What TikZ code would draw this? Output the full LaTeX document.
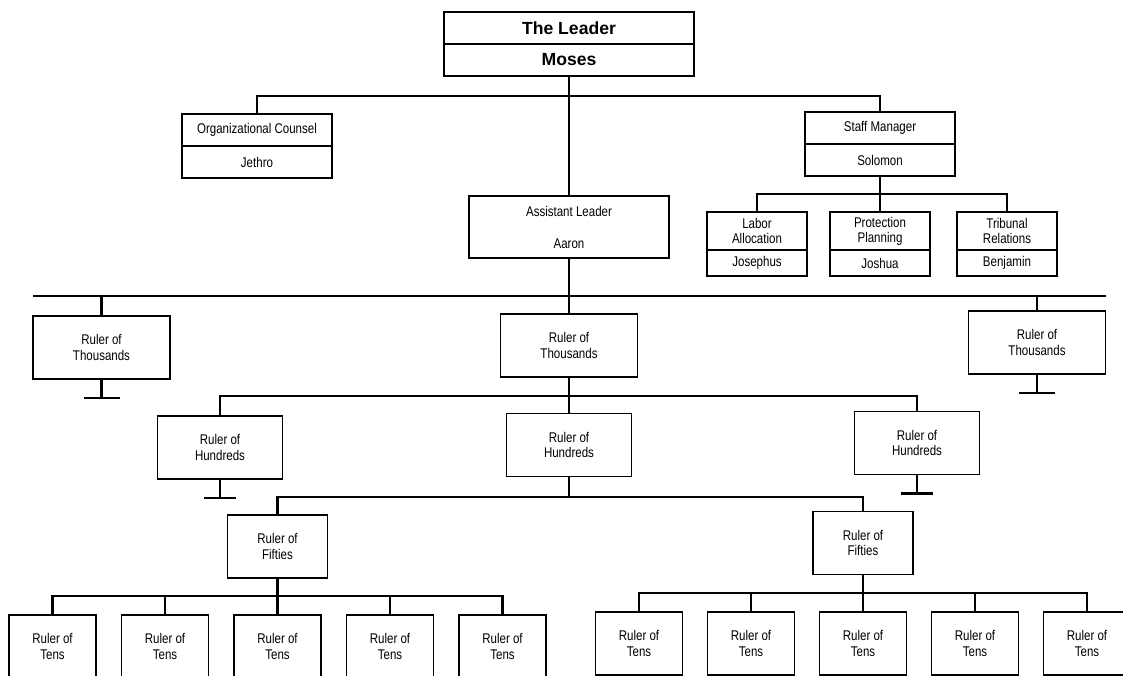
\documentclass[tikz,border=0pt]{standalone}
\usepackage{fontspec}
\setmainfont{Liberation Sans}[FakeStretch=0.82]
\newfontfamily\leadfont{Liberation Sans}
\usetikzlibrary{positioning}

\begin{document}
\begin{tikzpicture}[
  x=0.25mm, y=-0.25mm,
  font=\fontsize{10}{10.8}\selectfont,
  link/.style={line width=0.6mm},
  box/.style={
    draw,
    line width=0.4mm,
    outer sep=0pt,
    inner sep=1pt,
    align=center,
    minimum height=15.75mm
  },
  headrow/.style={
    box,
    minimum width=62.5mm,
    minimum height=8mm,
    font=\leadfont\bfseries\fontsize{12.5}{14}\selectfont
  },
  staffrow/.style={box, minimum width=37.5mm, minimum height=8mm},
  deptrow/.style={box, minimum width=25mm, minimum height=9.5mm},
  deptname/.style={box, minimum width=25mm, minimum height=6.5mm},
  thousands/.style={box, minimum width=34.25mm},
  hundreds/.style={box, minimum width=31.25mm},
  fifties/.style={box, minimum width=25mm},
  tens/.style={box, minimum width=21.75mm}
]
\useasboundingbox (0,0) rectangle (1123,675);
\clip (0,0) rectangle (1123,675);

% The leader and his two advisers.
\node[headrow] (leader) at (569,28) {The Leader};
\node[headrow, below=0pt of leader] (moses) {Moses};

\node[staffrow] (counsel) at (257,130) {Organizational Counsel};
\node[staffrow, below=0pt of counsel] (jethro) {Jethro};
\node[staffrow] (staff) at (880,128) {Staff Manager};
\node[staffrow, below=0pt of staff] (solomon) {Solomon};

\node[box, minimum width=50mm, minimum height=15.5mm] (assistant) at (569,227)
  {Assistant Leader\\[12pt]Aaron};

\coordinate (topbus) at (569,96);
\draw[link] (counsel.north) |- (topbus) -| (staff.north);
\draw[link] (moses.south) -- (assistant.north);

% Staff departments.
\node[deptrow] (labor) at (757,231) {Labor\\Allocation};
\node[deptname, below=0pt of labor] (josephus) {Josephus};
\node[deptrow] (protection) at (880,231) {Protection\\Planning};
\node[deptname, below=0pt of protection] (joshua) {Joshua};
\node[deptrow] (tribunal) at (1007,231) {Tribunal\\Relations};
\node[deptname, below=0pt of tribunal] (benjamin) {Benjamin};

\coordinate (staffbus) at (880,194);
\draw[link] (labor.north) |- (staffbus) -| (tribunal.north);
\draw[link] (solomon.south) -- (protection.north);

% Rulers of thousands.
\node[thousands] (th1) at (101.5,347.5) {Ruler of\\Thousands};
\node[thousands] (th2) at (569,345.5) {Ruler of\\Thousands};
\node[thousands] (th3) at (1037,342.5) {Ruler of\\Thousands};

\coordinate (thbus) at (569,296);
\draw[link] (th1.west |- thbus) -- (th3.east |- thbus);
\draw[link] (th1.north) -- (th1.north |- thbus);
\draw[link] (th3.north) -- (th3.north |- thbus);
\draw[link] (assistant.south) -- (th2.north);

% Rulers of hundreds.
\node[hundreds] (hu1) at (220,447.5) {Ruler of\\Hundreds};
\node[hundreds] (hu2) at (569,445) {Ruler of\\Hundreds};
\node[hundreds] (hu3) at (917,443) {Ruler of\\Hundreds};

\coordinate (hubus) at (569,396);
\draw[link] (hu1.north) |- (hubus) -| (hu3.north);
\draw[link] (th2.south) -- (hu2.north);

% Branches left open.
\foreach \n/\w in {th1/4.5mm, th3/4.5mm, hu1/3.9mm, hu3/3.9mm} {
  \draw[link] (\n.south) -- ++(0,19) coordinate (\n-end);
  \draw[link] ([xshift=-\w]\n-end) -- ([xshift=\w]\n-end);
}

% Rulers of fifties.
\node[fifties] (fi1) at (277.5,546.5) {Ruler of\\Fifties};
\node[fifties] (fi2) at (863,543) {Ruler of\\Fifties};

\coordinate (fibus) at (569,497);
\draw[link] (fi1.north) |- (fibus) -| (fi2.north);
\draw[link] (hu2.south) -- (fibus);

% Rulers of tens.
\foreach \i in {0,...,4} {
  \node[tens] (tl\i) at ({52.5+112.5*\i},646.5) {Ruler of\\Tens};
  \node[tens] (tr\i) at ({639+112*\i},643.5) {Ruler of\\Tens};
}

\coordinate (tlbus) at (277.5,596);
\coordinate (trbus) at (863,593);
\draw[link] (tl0.north) |- (tlbus) -| (tl4.north);
\draw[link] (tr0.north) |- (trbus) -| (tr4.north);
\draw[link] (fi1.south) -- (tl2.north);
\draw[link] (fi2.south) -- (tr2.north);
\foreach \i in {1,3} {
  \draw[link] (tl\i.north) -- (tl\i.north |- tlbus);
  \draw[link] (tr\i.north) -- (tr\i.north |- trbus);
}

\end{tikzpicture}
\end{document}
